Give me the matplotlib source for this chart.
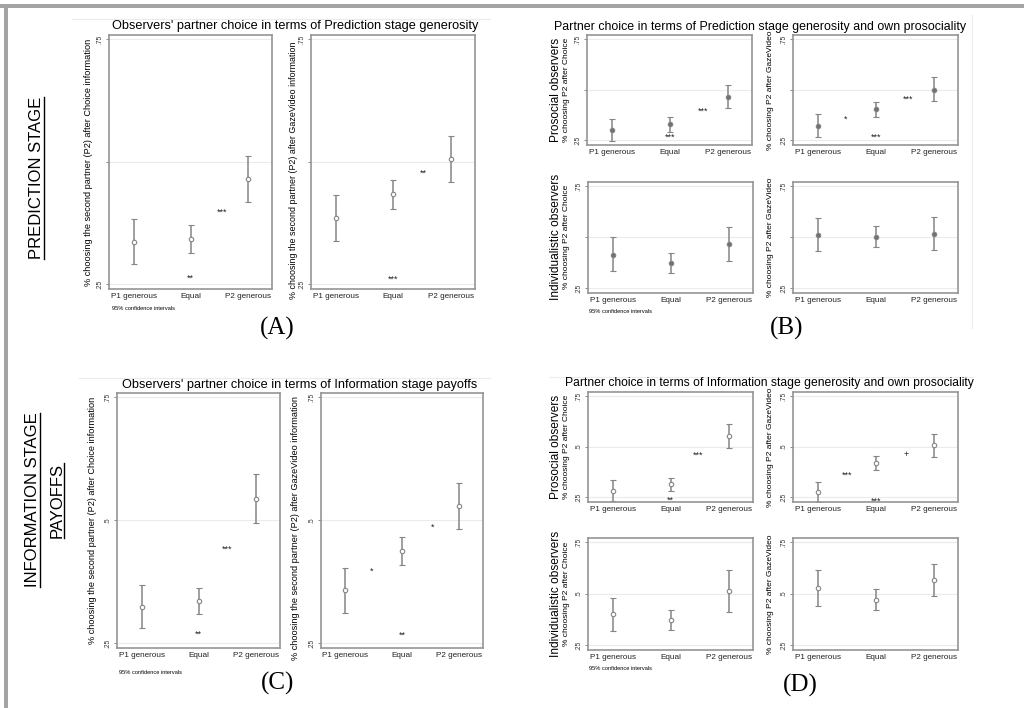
import matplotlib.pyplot as plt
from matplotlib.lines import Line2D
from matplotlib.patches import Rectangle

plt.rcParams['font.family'] = ['Liberation Sans', 'DejaVu Sans']

W, H = 1024, 708

cats = ['P1 generous', 'Equal', 'P2 generous']

# (A) prediction stage generosity, all observers
a_choice_mean = [0.336, 0.342, 0.465]
a_choice_lo = [0.290, 0.314, 0.417]
a_choice_hi = [0.382, 0.370, 0.511]
a_gaze_mean = [0.385, 0.433, 0.505]
a_gaze_lo = [0.338, 0.403, 0.458]
a_gaze_hi = [0.431, 0.462, 0.553]

# (B) prediction stage generosity by own prosociality
b_pro_choice_mean = [0.300, 0.327, 0.465]
b_pro_choice_lo = [0.245, 0.292, 0.410]
b_pro_choice_hi = [0.353, 0.362, 0.520]
b_pro_gaze_mean = [0.320, 0.403, 0.500]
b_pro_gaze_lo = [0.267, 0.365, 0.443]
b_pro_gaze_hi = [0.377, 0.438, 0.560]
b_ind_choice_mean = [0.413, 0.372, 0.468]
b_ind_choice_lo = [0.332, 0.322, 0.380]
b_ind_choice_hi = [0.500, 0.422, 0.550]
b_ind_gaze_mean = [0.510, 0.500, 0.515]
b_ind_gaze_lo = [0.430, 0.450, 0.435]
b_ind_gaze_hi = [0.593, 0.552, 0.598]

# (C) information stage payoffs, all observers
c_choice_mean = [0.323, 0.335, 0.543]
c_choice_lo = [0.280, 0.308, 0.493]
c_choice_hi = [0.367, 0.362, 0.594]
c_gaze_mean = [0.357, 0.437, 0.528]
c_gaze_lo = [0.311, 0.409, 0.481]
c_gaze_hi = [0.403, 0.466, 0.575]

# (D) information stage generosity by own prosociality
d_pro_choice_mean = [0.280, 0.313, 0.553]
d_pro_choice_lo = [0.229, 0.282, 0.495]
d_pro_choice_hi = [0.332, 0.345, 0.612]
d_pro_gaze_mean = [0.276, 0.419, 0.505]
d_pro_gaze_lo = [0.225, 0.385, 0.447]
d_pro_gaze_hi = [0.326, 0.454, 0.563]
d_ind_choice_mean = [0.400, 0.371, 0.510]
d_ind_choice_lo = [0.320, 0.325, 0.410]
d_ind_choice_hi = [0.479, 0.419, 0.612]
d_ind_gaze_mean = [0.528, 0.469, 0.566]
d_ind_gaze_lo = [0.440, 0.419, 0.489]
d_ind_gaze_hi = [0.616, 0.521, 0.645]

# significance marks: (x position on category scale, y value, mark)
a_choice_stars = [(2.0, 0.262, '**'), (2.54, 0.397, '***')]
a_gaze_stars = [(2.0, 0.260, '***'), (2.53, 0.476, '**')]
b_pro_choice_stars = [(2.0, 0.265, '***'), (2.57, 0.390, '***')]
b_pro_gaze_stars = [(1.48, 0.355, '*'), (2.0, 0.263, '***'), (2.55, 0.454, '***')]
c_choice_stars = [(2.0, 0.268, '**'), (2.49, 0.440, '***')]
c_gaze_stars = [(1.46, 0.396, '*'), (2.0, 0.266, '**'), (2.53, 0.485, '*')]
d_pro_choice_stars = [(2.0, 0.234, '**'), (2.48, 0.455, '***')]
d_pro_gaze_stars = [(1.51, 0.359, '***'), (2.0, 0.229, '***'), (2.52, 0.459, '+')]

yticks = [0.25, 0.5, 0.75]

fig = plt.figure(figsize=(W / 100, H / 100), dpi=100)
fig.patch.set_facecolor('white')


def fx(x):
    return x / W


def fy(y):
    return 1 - y / H


def panel(x0, y0, x1, y1, mean, lo, hi, stars=(), show_mid=True, filled=False):
    ax = fig.add_axes([fx(x0), fy(y1), (x1 - x0) / W, (y1 - y0) / H])
    s = 0.5 / (y1 - y0 - 9)
    ax.set_ylim(0.25 - 5 * s, 0.75 + 4 * s)
    ax.set_xlim(0.57, 3.42)
    for t in yticks:
        ax.axhline(t, color='#ebebeb', lw=0.8, zorder=0)
    xs = [1, 2, 3]
    yerr = [[m - l for m, l in zip(mean, lo)], [h - m for m, h in zip(mean, hi)]]
    ax.errorbar(xs, mean, yerr=yerr, fmt='o', color='#858585', ecolor='#858585',
                elinewidth=1.1, capsize=2.2, capthick=1.1, ms=3.2,
                mfc='#707070' if filled else 'white', mec='#858585', mew=0.8)
    for sx, sy, txt in stars:
        ax.text(sx, sy, txt, ha='center', va='center', fontsize=6.5, color='#222222')
    ax.set_xticks(xs)
    ax.set_xticklabels(cats, fontsize=5.9, color='#222222')
    ax.tick_params(axis='x', length=0, pad=3)
    ax.set_yticks(yticks)
    ax.set_yticklabels(['.25', '.5' if show_mid else '', '.75'], rotation=90,
                       va='center', fontsize=4.8, color='#333333')
    ax.tick_params(axis='y', length=2.5, width=0.6, color='#777777', pad=1.5)
    for sp in ax.spines.values():
        sp.set_color('#959595')
        sp.set_linewidth(1.2)
    return ax


def ftext(x, y, s, **kw):
    return fig.text(fx(x), fy(y), s, **kw)


# outer grey frame
fig.add_artist(Rectangle((fx(0), fy(8)), 1, 4 / H, transform=fig.transFigure,
                         color='#a4a4a4', lw=0))
fig.add_artist(Rectangle((fx(4), 0), 4 / W, fy(4), transform=fig.transFigure,
                         color='#a4a4a4', lw=0))
# faint edges of the pasted images
for xa, xb, yy in [(72, 490, 19), (79, 490, 378), (550, 973, 377)]:
    fig.add_artist(Line2D([fx(xa), fx(xb)], [fy(yy), fy(yy)], transform=fig.transFigure,
                          color='#ececec', lw=0.8))
fig.add_artist(Line2D([fx(972), fx(972)], [fy(15), fy(328)], transform=fig.transFigure,
                      color='#ececec', lw=0.8))

# ---- (A)
panel(109, 35, 272, 289, a_choice_mean, a_choice_lo, a_choice_hi, a_choice_stars, show_mid=False)
panel(311, 35, 475, 289, a_gaze_mean, a_gaze_lo, a_gaze_hi, a_gaze_stars, show_mid=False)
ftext(295, 26, "Observers' partner choice in terms of Prediction stage generosity",
      ha='center', va='center', fontsize=9.2)
ftext(89, 162, '% choosing the second partner (P2) after Choice information',
      rotation=90, ha='center', va='center', fontsize=6.6)
ftext(294, 170, '% choosing the second partner (P2) after GazeVideo information',
      rotation=90, ha='center', va='center', fontsize=6.4)
ftext(112, 309, '95% confidence intervals', ha='left', va='center', fontsize=4.1)
ftext(277, 328, '(A)', ha='center', va='center', fontsize=18, family='Liberation Serif')

# ---- (B)
panel(587, 35, 752, 145, b_pro_choice_mean, b_pro_choice_lo, b_pro_choice_hi,
      b_pro_choice_stars, show_mid=False, filled=True)
panel(793, 35, 958, 145, b_pro_gaze_mean, b_pro_gaze_lo, b_pro_gaze_hi,
      b_pro_gaze_stars, show_mid=False, filled=True)
panel(588, 182, 753, 293, b_ind_choice_mean, b_ind_choice_lo, b_ind_choice_hi,
      show_mid=False, filled=True)
panel(793, 182, 958, 293, b_ind_gaze_mean, b_ind_gaze_lo, b_ind_gaze_hi,
      show_mid=False, filled=True)
ftext(760, 27, 'Partner choice in terms of Prediction stage generosity and own prosociality',
      ha='center', va='center', fontsize=8.9)
ftext(556, 90, 'Prosocial observers', rotation=90, ha='center', va='center', fontsize=8.6)
ftext(566, 90, '% choosing P2 after Choice', rotation=90, ha='center', va='center', fontsize=6.0)
ftext(556, 237, 'Individualistic observers', rotation=90, ha='center', va='center', fontsize=8.6)
ftext(566, 237, '% choosing P2 after Choice', rotation=90, ha='center', va='center', fontsize=6.0)
ftext(770, 90, '% choosing P2 after GazeVideo', rotation=90, ha='center', va='center', fontsize=6.0)
ftext(770, 237, '% choosing P2 after GazeVideo', rotation=90, ha='center', va='center', fontsize=6.0)
ftext(589, 312, '95% confidence intervals', ha='left', va='center', fontsize=4.1)
ftext(787, 328, '(B)', ha='center', va='center', fontsize=18, family='Liberation Serif')

# ---- (C)
panel(117, 393, 280, 648, c_choice_mean, c_choice_lo, c_choice_hi, c_choice_stars)
panel(321, 393, 483, 648, c_gaze_mean, c_gaze_lo, c_gaze_hi, c_gaze_stars)
ftext(300, 385, "Observers' partner choice in terms of Information stage payoffs",
      ha='center', va='center', fontsize=9.2)
ftext(93, 520, '% choosing the second partner (P2) after Choice information',
      rotation=90, ha='center', va='center', fontsize=6.6)
ftext(296, 528, '% choosing the second partner (P2) after GazeVideo information',
      rotation=90, ha='center', va='center', fontsize=6.6)
ftext(119, 672, '95% confidence intervals', ha='left', va='center', fontsize=4.1)
ftext(278, 683, '(C)', ha='center', va='center', fontsize=18, family='Liberation Serif')

# ---- (D)
panel(588, 392, 753, 502, d_pro_choice_mean, d_pro_choice_lo, d_pro_choice_hi, d_pro_choice_stars)
panel(793, 392, 958, 502, d_pro_gaze_mean, d_pro_gaze_lo, d_pro_gaze_hi, d_pro_gaze_stars)
panel(588, 538, 753, 650, d_ind_choice_mean, d_ind_choice_lo, d_ind_choice_hi)
panel(793, 538, 958, 650, d_ind_gaze_mean, d_ind_gaze_lo, d_ind_gaze_hi)
ftext(769, 383, 'Partner choice in terms of Information stage generosity and own prosociality',
      ha='center', va='center', fontsize=8.7)
ftext(556, 447, 'Prosocial observers', rotation=90, ha='center', va='center', fontsize=8.6)
ftext(566, 447, '% choosing P2 after Choice', rotation=90, ha='center', va='center', fontsize=6.0)
ftext(556, 594, 'Individualistic observers', rotation=90, ha='center', va='center', fontsize=8.6)
ftext(566, 594, '% choosing P2 after Choice', rotation=90, ha='center', va='center', fontsize=6.0)
ftext(770, 447, '% choosing P2 after GazeVideo', rotation=90, ha='center', va='center', fontsize=6.0)
ftext(770, 594, '% choosing P2 after GazeVideo', rotation=90, ha='center', va='center', fontsize=6.0)
ftext(589, 669, '95% confidence intervals', ha='left', va='center', fontsize=4.1)
ftext(800, 685, '(D)', ha='center', va='center', fontsize=18, family='Liberation Serif')

# ---- stage labels on the left, underlined
stage_labels = [
    ftext(37, 178, 'PREDICTION STAGE', rotation=90, ha='center', va='center', fontsize=12),
    ftext(33, 500, 'INFORMATION STAGE', rotation=90, ha='center', va='center', fontsize=12),
    ftext(57, 500, 'PAYOFFS', rotation=90, ha='center', va='center', fontsize=12),
]
fig.canvas.draw()
rend = fig.canvas.get_renderer()
for t in stage_labels:
    bb = t.get_window_extent(rend)
    xu = (bb.x1 - 1) / W
    fig.add_artist(Line2D([xu, xu], [bb.y0 / H, bb.y1 / H], transform=fig.transFigure,
                          color='black', lw=1.0))

fig.savefig('out.png', dpi=100)
